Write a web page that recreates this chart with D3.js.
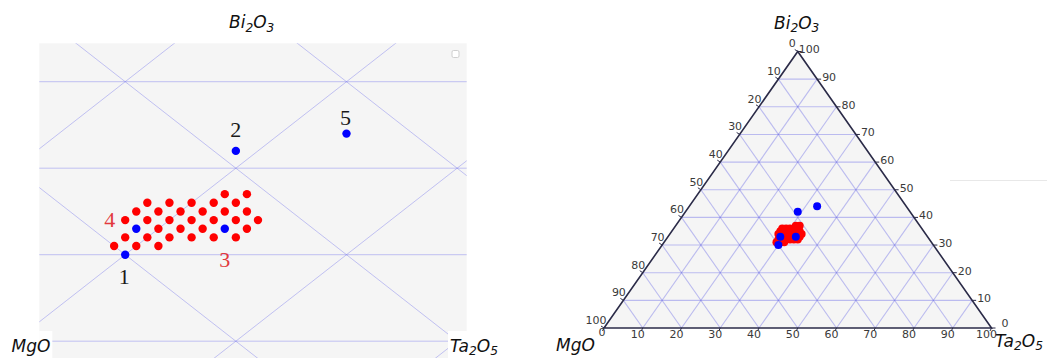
<!DOCTYPE html>
<html>
<head>
<meta charset="utf-8">
<script src="https://cdn.jsdelivr.net/npm/d3@7"></script>
<style>
  body { margin: 0; background: #fff; }
  text { font-family: "DejaVu Sans", sans-serif; }
</style>
</head>
<body>
<svg id="chart" width="1047" height="358"></svg>
<script>
// ---- Data: compositions in mol% (MgO = 100 - Bi2O3 - Ta2O5) ----
// Labelled samples (blue)
const sampleLabels = ["1", "2", "3", "4", "5"];
const sampleBi = [30, 42, 33, 33, 44];
const sampleTa = [30, 29, 33, 29, 33];
const sampleLabelRed = [false, false, true, true, false];

// Single-phase compositions (red), 1 mol% grid
const phaseBi = [37, 37,
  36, 36, 36, 36, 36,
  35, 35, 35, 35, 35, 35,
  34, 34, 34, 34, 34, 34, 34,
  33, 33, 33, 33,
  32, 32, 32, 32, 32, 32,
  31, 31, 31];
const phaseTa = [31, 32,
  28, 29, 30, 31, 32,
  28, 29, 30, 31, 32, 33,
  28, 29, 30, 31, 32, 33, 34,
  30, 31, 32, 34,
  29, 30, 31, 32, 33, 34,
  29, 30, 31];

// Axis ticks and component names
const tickValues = [0, 10, 20, 30, 40, 50, 60, 70, 80, 90, 100];
const gridValues = [10, 20, 30, 40, 50, 60, 70, 80, 90];
const nameBi = [["Bi", false], ["2", true], ["O", false], ["3", true]];
const nameMg = [["MgO", false]];
const nameTa = [["Ta", false], ["2", true], ["O", false], ["5", true]];

// ---- Layout ----
const svg = d3.select("#chart");
const BLUE = "#0000ff", RED = "#ff0000";

const samples = sampleLabels.map((l, i) => ({ label: l, bi: sampleBi[i], ta: sampleTa[i], red: sampleLabelRed[i] }));
const phases = phaseBi.map((b, i) => ({ bi: b, ta: phaseTa[i] }));

// horizontal position of a composition in "triangle units" (0..100 along the base)
const hx = d => d.ta + d.bi / 2;

function formula(g, parts, x, y, size, anchor) {
  const t = g.append("text").attr("x", x).attr("y", y)
    .attr("font-size", size).attr("font-style", "italic").attr("fill", "#111")
    .attr("text-anchor", anchor || "start");
  let sub = false;
  parts.forEach(([s, isSub]) => {
    const dy = isSub && !sub ? size * 0.22 : (!isSub && sub ? -size * 0.22 : 0);
    t.append("tspan").attr("dy", dy).attr("font-size", isSub ? size * 0.72 : size).text(s);
    sub = isSub;
  });
  return t;
}

// grid line segments in composition space
function gridSegments(values) {
  const segs = [];
  values.forEach(v => {
    segs.push([{ bi: v, ta: 0 }, { bi: v, ta: 100 - v }]);       // constant Bi2O3
    segs.push([{ bi: 0, ta: v }, { bi: 100 - v, ta: v }]);       // constant Ta2O5
    segs.push([{ bi: 0, ta: 100 - v }, { bi: 100 - v, ta: 0 }]); // constant MgO
  });
  return segs;
}

// ================= Left panel: enlarged view =================
const L = svg.append("g");
const lx = d3.scaleLinear().domain([45, 55]).range([125.2, 346.5]);
const ly = d3.scaleLinear().domain([30, 40]).range([254.7, 168.2]);
const panel = { x0: 39.3, x1: 466.7, y0: 43.3, y1: 358 };

L.append("clipPath").attr("id", "lclip").append("rect")
  .attr("x", panel.x0).attr("y", panel.y0)
  .attr("width", panel.x1 - panel.x0).attr("height", panel.y1 - panel.y0);
L.append("rect").attr("x", panel.x0).attr("y", panel.y0)
  .attr("width", panel.x1 - panel.x0).attr("height", panel.y1 - panel.y0)
  .attr("fill", "#f5f5f5");

const lGrid = L.append("g").attr("clip-path", "url(#lclip)");
const lSegs = gridSegments(d3.range(0, 101, 10));
lGrid.selectAll("line").data(lSegs).join("line")
  .attr("x1", d => lx(hx(d[0]))).attr("y1", d => ly(d[0].bi))
  .attr("x2", d => lx(hx(d[1]))).attr("y2", d => ly(d[1].bi))
  .attr("stroke", "rgb(120,120,235)").attr("stroke-opacity", 0.42).attr("stroke-width", 1);

// small control box in the corner
L.append("rect").attr("x", 452).attr("y", 50.5).attr("width", 7).attr("height", 7)
  .attr("rx", 1.5).attr("fill", "#fff").attr("stroke", "#cfcfcf").attr("stroke-width", 1);

L.selectAll("circle.phase").data(phases).join("circle").attr("class", "phase")
  .attr("cx", d => lx(hx(d))).attr("cy", d => ly(d.bi)).attr("r", 4.2).attr("fill", RED);
L.selectAll("circle.sample").data(samples).join("circle").attr("class", "sample")
  .attr("cx", d => lx(hx(d))).attr("cy", d => ly(d.bi)).attr("r", 4.2).attr("fill", BLUE);

// sample numbers: offsets from the marker (dx, baseline dy)
const labelOffsets = [[-1, 29], [0, -14.3], [0, 38.6], [-26.5, -2], [-1, -8.3]];
L.selectAll("text.num").data(samples).join("text").attr("class", "num")
  .attr("x", (d, i) => lx(hx(d)) + labelOffsets[i][0])
  .attr("y", (d, i) => ly(d.bi) + labelOffsets[i][1])
  .attr("text-anchor", "middle")
  .style("font-family", "'Liberation Serif', 'DejaVu Serif', serif")
  .attr("font-size", 22)
  .attr("fill", d => d.red ? "#e2393d" : "#1a1a1a")
  .text(d => d.label);

// white label backgrounds at the bottom corners
L.append("rect").attr("x", panel.x0).attr("y", 331).attr("width", 13).attr("height", 27).attr("fill", "#fff");
L.append("rect").attr("x", 448).attr("y", 331).attr("width", panel.x1 - 448 + 1).attr("height", 27).attr("fill", "#fff");

formula(L, nameBi, 229, 28.3, 17);
formula(L, nameMg, 11.5, 351.5, 17);
formula(L, nameTa, 450, 351.5, 17);

// ================= Right panel: full ternary diagram =================
const R = svg.append("g");
const rx = d3.scaleLinear().domain([0, 100]).range([604, 991.5]);
const ry = d3.scaleLinear().domain([0, 100]).range([328, 51.5]);
const rp = d => [rx(hx(d)), ry(d.bi)];

// faint separator line
R.append("line").attr("x1", 950).attr("x2", 1047).attr("y1", 180.5).attr("y2", 180.5)
  .attr("stroke", "#e8e8e8").attr("stroke-width", 1);

const corners = [{ bi: 0, ta: 0 }, { bi: 0, ta: 100 }, { bi: 100, ta: 0 }];
R.append("polygon").attr("points", corners.map(c => rp(c).join(",")).join(" "))
  .attr("fill", "#f5f5f5");

R.append("g").selectAll("line").data(gridSegments(gridValues)).join("line")
  .attr("x1", d => rp(d[0])[0]).attr("y1", d => rp(d[0])[1])
  .attr("x2", d => rp(d[1])[0]).attr("y2", d => rp(d[1])[1])
  .attr("stroke", "rgb(100,100,230)").attr("stroke-opacity", 0.4).attr("stroke-width", 1.1);

R.append("polygon").attr("points", corners.map(c => rp(c).join(",")).join(" "))
  .attr("fill", "none").attr("stroke", "#2b2b48").attr("stroke-width", 1.6).attr("stroke-linejoin", "miter");

// ticks (labels at the corners sit a little further out)
const tickStyle = sel => sel.attr("font-size", 11).attr("fill", "#3a3a3a");
const tk = R.append("g");
tickValues.forEach(v => {
  // left edge: MgO
  const [lxp, lyp] = rp({ bi: 100 - v, ta: 0 });
  tk.append("line").attr("x1", lxp).attr("y1", lyp).attr("x2", lxp - 3).attr("y2", lyp - 2)
    .attr("stroke", "#2b2b48").attr("stroke-width", 1);
  tk.append("text").attr("x", lxp + (v === 0 ? -2 : 2.5)).attr("y", lyp - (v === 0 ? 5 : 4))
    .attr("text-anchor", "end").text(v).call(tickStyle);
  // right edge: Bi2O3
  const [rxp, ryp] = rp({ bi: v, ta: 100 - v });
  tk.append("line").attr("x1", rxp).attr("y1", ryp).attr("x2", rxp + 4).attr("y2", ryp)
    .attr("stroke", "#2b2b48").attr("stroke-width", 1);
  tk.append("text")
    .attr("x", rxp + (v === 0 ? 10 : v === 100 ? 1 : 5))
    .attr("y", ryp + (v === 0 ? -1 : v === 100 ? 1.5 : 2))
    .attr("text-anchor", "start").text(v).call(tickStyle);
  // bottom edge: Ta2O5
  const [bxp, byp] = rp({ bi: 0, ta: v });
  tk.append("line").attr("x1", bxp).attr("y1", byp).attr("x2", bxp - 1.5).attr("y2", byp + 3)
    .attr("stroke", "#2b2b48").attr("stroke-width", 1);
  tk.append("text").attr("x", bxp - (v === 0 ? 2 : 5)).attr("y", byp + (v === 0 ? 8 : 10))
    .attr("text-anchor", "middle").text(v).call(tickStyle);
});

R.selectAll("circle.phase").data(phases).join("circle").attr("class", "phase")
  .attr("cx", d => rp(d)[0]).attr("cy", d => rp(d)[1]).attr("r", 4).attr("fill", RED);
R.selectAll("circle.sample").data(samples).join("circle").attr("class", "sample")
  .attr("cx", d => rp(d)[0]).attr("cy", d => rp(d)[1]).attr("r", 4).attr("fill", BLUE);

formula(R, nameBi, 774, 28.5, 17);
formula(R, nameMg, 556, 351, 17);
formula(R, nameTa, 995, 346.5, 17);
</script>
</body>
</html>
